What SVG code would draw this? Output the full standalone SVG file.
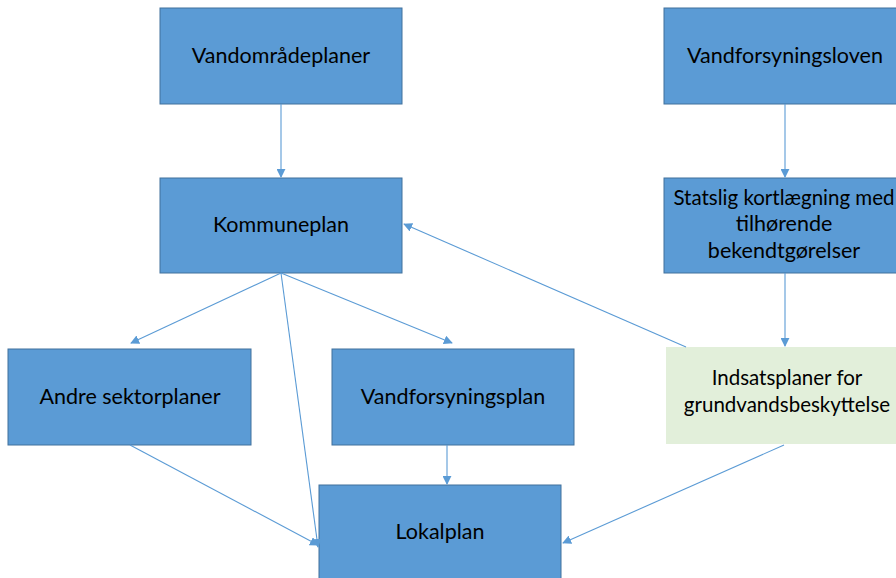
<svg xmlns="http://www.w3.org/2000/svg" width="896" height="578" viewBox="0 0 896 578">
<style>
.b{fill:#5B9BD5;stroke:#41719C;stroke-width:1}
.g{fill:#E2EFDA;stroke:none}
.t{font-family:Lato,"Liberation Sans",sans-serif;font-size:21.5px;fill:#000;text-anchor:middle}
.s{font-size:20.5px}
.c line{stroke:#5B9BD5;stroke-width:1.1;marker-end:url(#a)}
</style>
<defs>
<marker id="a" viewBox="0 0 10 10" refX="9" refY="5" markerWidth="9" markerHeight="9" markerUnits="userSpaceOnUse" orient="auto">
<path d="M0,0 L10,5 L0,10 z" fill="#5B9BD5"/>
</marker>
</defs>
<rect width="896" height="578" fill="#fff"/>
<g id="vandomradeplaner"><rect class="b" x="160" y="8" width="242" height="96"/><text class="t" x="281" y="63">Vandområdeplaner</text></g>
<g id="vandforsyningsloven"><rect class="b" x="664" y="8" width="240" height="96"/><text class="t" x="785" y="63">Vandforsyningsloven</text></g>
<g id="kommuneplan"><rect class="b" x="160" y="178" width="242" height="95"/><text class="t" x="281" y="232">Kommuneplan</text></g>
<g id="statslig"><rect class="b" x="664" y="178" width="240" height="95"/><text class="t s" x="784" y="205">Statslig kortlægning med</text><text class="t" x="784" y="231">tilhørende</text><text class="t" x="784" y="258">bekendtgørelser</text></g>
<g id="andre"><rect class="b" x="8" y="349" width="243" height="96"/><text class="t" x="130" y="404">Andre sektorplaner</text></g>
<g id="vandforsyningsplan"><rect class="b" x="332" y="349" width="242" height="96"/><text class="t" x="453" y="404">Vandforsyningsplan</text></g>
<g id="indsatsplaner"><rect class="g" x="666" y="347" width="235" height="97"/><text class="t s" x="787" y="385">Indsatsplaner for</text><text class="t s" x="787" y="412">grundvandsbeskyttelse</text></g>
<g id="lokalplan"><rect class="b" x="319" y="485" width="242" height="95"/><text class="t" x="440" y="539">Lokalplan</text></g>
<g class="c" id="connectors">
<line x1="281" y1="104" x2="281" y2="177"/>
<line x1="785" y1="104" x2="785" y2="177"/>
<line x1="785" y1="273" x2="785" y2="346"/>
<line x1="281" y1="273" x2="131" y2="343"/>
<line x1="281" y1="273" x2="452" y2="343"/>
<line x1="281" y1="273" x2="318" y2="547"/>
<line x1="130" y1="445" x2="318" y2="545"/>
<line x1="447" y1="445" x2="447" y2="484"/>
<line x1="784" y1="445" x2="563" y2="543"/>
<line x1="686" y1="347" x2="404" y2="224"/>
</g>
</svg>
